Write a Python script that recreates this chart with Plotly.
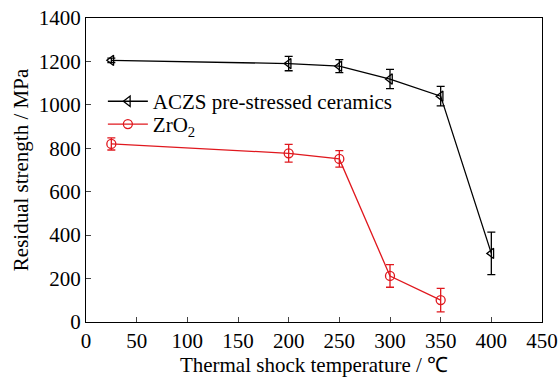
import plotly.graph_objects as go

temps = [25, 200, 250, 300, 350, 400]
aczs = [1205, 1190, 1178, 1119, 1040, 316]
aczs_err = [10, 33, 30, 44, 45, 98]
zr_temps = [25, 200, 250, 300, 350]
zro2 = [820, 777, 751, 212, 101]
zro2_err = [28, 41, 38, 52, 54]

font = "Liberation Serif"
fs = 21
fig = go.Figure()
fig.add_trace(go.Scatter(
    x=temps, y=aczs, mode="lines+markers", name="ACZS pre-stressed ceramics",
    line=dict(color="black", width=1.3), legend="legend",
    marker=dict(symbol="triangle-left-open", size=9, color="black", line=dict(width=1.3)),
    error_y=dict(type="data", array=aczs_err, visible=True, color="black", thickness=1.3, width=4),
))
fig.add_trace(go.Scatter(
    x=zr_temps, y=zro2, mode="lines+markers", name="ZrO<sub>2</sub>",
    line=dict(color="#e0181e", width=1.3), legend="legend2",
    marker=dict(symbol="circle-open", size=9, color="#e0181e", line=dict(width=1.3)),
    error_y=dict(type="data", array=zro2_err, visible=True, color="#e0181e", thickness=1.3, width=4),
))
leg_common = dict(xanchor="left", yanchor="middle", bgcolor="rgba(0,0,0,0)",
                  font=dict(family=font, size=fs, color="black"), itemwidth=40)
fig.update_layout(
    width=560, height=378,
    margin=dict(l=86, r=18, t=18, b=56),
    paper_bgcolor="white", plot_bgcolor="white",
    font=dict(family=font, size=fs, color="black"),
    showlegend=True,
    legend=dict(x=0.037, y=0.725, **leg_common),
    legend2=dict(x=0.037, y=0.65, **leg_common),
    xaxis=dict(range=[0, 450], dtick=50, ticks="inside", ticklen=5, tickwidth=1.3,
               showline=True, linecolor="black", linewidth=1.3, mirror=True,
               showgrid=False, zeroline=False, automargin=False,
               tickfont=dict(family=font, size=fs, color="black"),
               title=dict(text="Thermal shock temperature / ℃", font=dict(family=font, size=fs, color="black"), standoff=2)),
    yaxis=dict(range=[0, 1400], dtick=200, ticks="inside", ticklen=5, tickwidth=1.3,
               showline=True, linecolor="black", linewidth=1.3, mirror=True,
               showgrid=False, zeroline=False, automargin=False,
               tickfont=dict(family=font, size=fs, color="black"),
               title=dict(text="Residual strength / MPa", font=dict(family=font, size=fs, color="black"), standoff=4)),
)
fig.write_html("out.html")
